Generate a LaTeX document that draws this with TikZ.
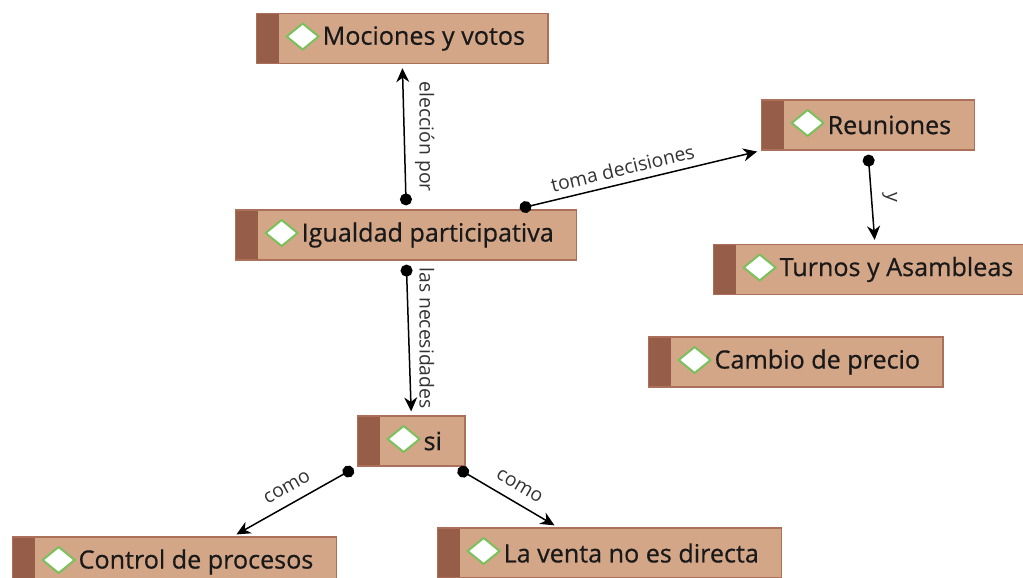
\documentclass[tikz,border=0pt]{standalone}
\usepackage{fontspec}
\setmainfont{Open Sans}
\newfontfamily\conceptfont{Open Sans}[FakeBold=0.6]
\usetikzlibrary{arrows.meta,calc}
\definecolor{boxfill}{RGB}{212,166,136}
\definecolor{boxstrip}{RGB}{150,94,72}
\definecolor{boxline}{RGB}{172,112,90}
\definecolor{icongreen}{RGB}{122,192,92}
\begin{document}
\begin{tikzpicture}[x=0.2mm,y=-0.2mm,
  concept/.style={draw=boxline,line width=0.25mm,fill=boxfill,anchor=west,
    minimum height=10mm,inner xsep=0pt,inner ysep=0pt,text=black!90,
    font=\conceptfont\fontsize{14.3}{17}\selectfont,
    execute at begin node={\hspace*{13.2mm}},
    execute at end node={\hspace*{4.6mm}},
    path picture={
      \fill[boxstrip] (path picture bounding box.north west) rectangle ([xshift=4.4mm]path picture bounding box.south west);
      \filldraw[draw=icongreen,fill=white,line width=0.4mm,line join=round]
        ([xshift=6mm,yshift=0.4mm]path picture bounding box.west) -- ++(16,-13) -- ++(16,13) -- ++(-16,13) -- cycle;
    }},
  link/.style={line width=0.3mm,{Circle[length=2.4mm]}-{Stealth[length=2.8mm,width=2.6mm]},
    shorten <=0.8mm,shorten >=0.8mm},
  lbl/.style={font=\fontsize{11}{13}\selectfont,text=black!80,inner sep=2mm}]
 \useasboundingbox (0,0) rectangle (1023,578);
 % concepts
 \node[concept] (mociones) at (256,38.5) {Mociones y votos};
 \node[concept] (igualdad) at (235,235) {Igualdad participativa};
 \node[concept] (reuniones) at (761,125) {Reuniones};
 \node[concept] (turnos) at (713,269.5) {Turnos y Asambleas};
 \node[concept] (cambio) at (648,362) {Cambio de precio};
 \node[concept] (si) at (357,441) {si};
 \node[concept] (control) at (12,562) {Control de procesos};
 \node[concept] (venta) at (437,553) {La venta no es directa};
 % links
 \draw[link] (igualdad.north) -- (mociones.south)
   node[lbl,midway,rotate=-90,anchor=south] {elección por};
 \draw[link] ($(igualdad.north west)!0.82!(igualdad.north east)$) -- (reuniones.south west)
   node[lbl,pos=0.45,sloped,above,inner sep=1.4mm] {toma decisiones};
 \draw[link] (igualdad.south) -- (si.north)
   node[lbl,midway,rotate=-90,anchor=south] {las necesidades};
 \draw[link] (reuniones.south) -- (turnos.north)
   node[lbl,midway,rotate=-90,anchor=south] {y};
 \draw[link] (si.south west) -- ($(control.north west)!0.68!(control.north east)$)
   node[lbl,pos=0.5,sloped,above] {como};
 \draw[link] ($(si.south east)+(-11,0)$) -- ($(venta.north west)!0.35!(venta.north east)$)
   node[lbl,pos=0.55,sloped,above] {como};
\end{tikzpicture}
\end{document}
